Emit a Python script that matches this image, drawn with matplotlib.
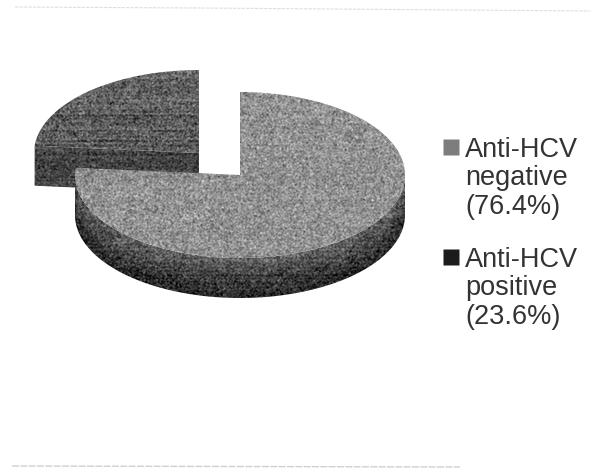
import numpy as np
import matplotlib
matplotlib.use("Agg")
import matplotlib.pyplot as plt
from matplotlib.patches import Polygon

plt.rcParams['font.family'] = ['Liberation Sans', 'DejaVu Sans']

# percentages of the two groups
groups = ["Anti-HCV\nnegative\n(76.4%)", "Anti-HCV\npositive\n(23.6%)"]
shares = [76.4, 23.6]

W, H = 594, 468
A, B = 165, 83      # ellipse radii of the pie top
DEPTH = 40
big_c = (240, 175)
small_c = (199, 153)  # pulled out up and to the left

rng = np.random.default_rng(7)
yy, xx = np.mgrid[0:H, 0:W]


def arc(c, t0, t1, n=200, dy=0):
    t = np.radians(np.linspace(t0, t1, n))
    return np.column_stack([c[0] + A*np.cos(t), c[1] - B*np.sin(t) + dy])


def grain(base, amount, rows=0.0):
    # printed halftone look, rows adds horizontal banding
    n = rng.normal(0, 1, (H, W))
    n = (n + np.roll(n, 1, 0) + np.roll(n, 1, 1) + np.roll(np.roll(n, 1, 0), 1, 1))/2
    g = base + amount*n
    if rows:
        r = rng.normal(0, rows, (H, 1))
        g = g + (r + np.roll(r, 1, 0))/1.4
    return np.clip(g, 0, 1)


def textured(ax, img, pts, z):
    im = ax.imshow(img, cmap='gray', vmin=0, vmax=1, extent=(0, W, H, 0),
                   aspect='auto', interpolation='bilinear', zorder=z)
    poly = Polygon(pts, closed=True, transform=ax.transData, fc='none', ec='none')
    ax.add_patch(poly)
    im.set_clip_path(poly)


def side_shade(c, top, bottom):
    # lighter just under the top rim, darkening towards the lower edge
    rim = c[1] + B*np.sqrt(np.clip(1 - ((xx - c[0])/A)**2, 0, 1))
    t = np.clip((yy - rim)/DEPTH, 0, 1)
    return top + (bottom - top)*t


fig = plt.figure(figsize=(W/100, H/100), dpi=100)
ax = fig.add_axes([0, 0, 1, 1])

# slice angles, clockwise from twelve o'clock
end_angle = 90 - shares[0]*3.6         # negative slice runs 90 -> end_angle
start_small = end_angle + 360

# pulled out slice first, the big one sits on top of it
a_small = arc(small_c, start_small, 90)
side_small = np.vstack([a_small[0], small_c, np.add(small_c, (0, DEPTH)), a_small[0] + (0, DEPTH)])
textured(ax, grain(0.27, 0.06, 0.025), side_small, 2)
top_small = np.vstack([small_c, a_small])
textured(ax, grain(0.40 - 0.0006*(yy - 70), 0.075, 0.03), top_small, 3)

# big slice wall, only the front half shows
front = arc(big_c, 180, 360)
side_big = np.vstack([front, front[::-1] + (0, DEPTH)])
textured(ax, grain(side_shade(big_c, 0.38, 0.13), 0.07, 0.02), side_big, 4)
top_big = np.vstack([big_c, arc(big_c, 90, end_angle, 400)])
textured(ax, grain(0.57, 0.07, 0.012), top_big, 5)

# legend
marker_col = ['#7d7d7d', '#1c1c1c']
leg_y = [147, 257]
for label, y0, col in zip(groups, leg_y, marker_col):
    ax.plot([451], [y0], marker='s', ms=11, color=col, mec='none', zorder=6)
    ax.text(465, y0 - 10, label, fontsize=19.5, color='#333333', va='top', ha='left',
            linespacing=1.12, zorder=6)

# faint frame lines of the scanned slide
ax.plot([15, 200, 590], [7, 8, 11], color='#dedede', lw=0.8, ls=(0, (3, 1)), zorder=1)
ax.plot([12, 460], [466, 467], color='#d0d0d0', lw=1.0, ls=(0, (5, 1)), zorder=1)

ax.set_xlim(0, W)
ax.set_ylim(H, 0)
ax.axis('off')

fig.savefig('out.png', dpi=100, facecolor='white')
